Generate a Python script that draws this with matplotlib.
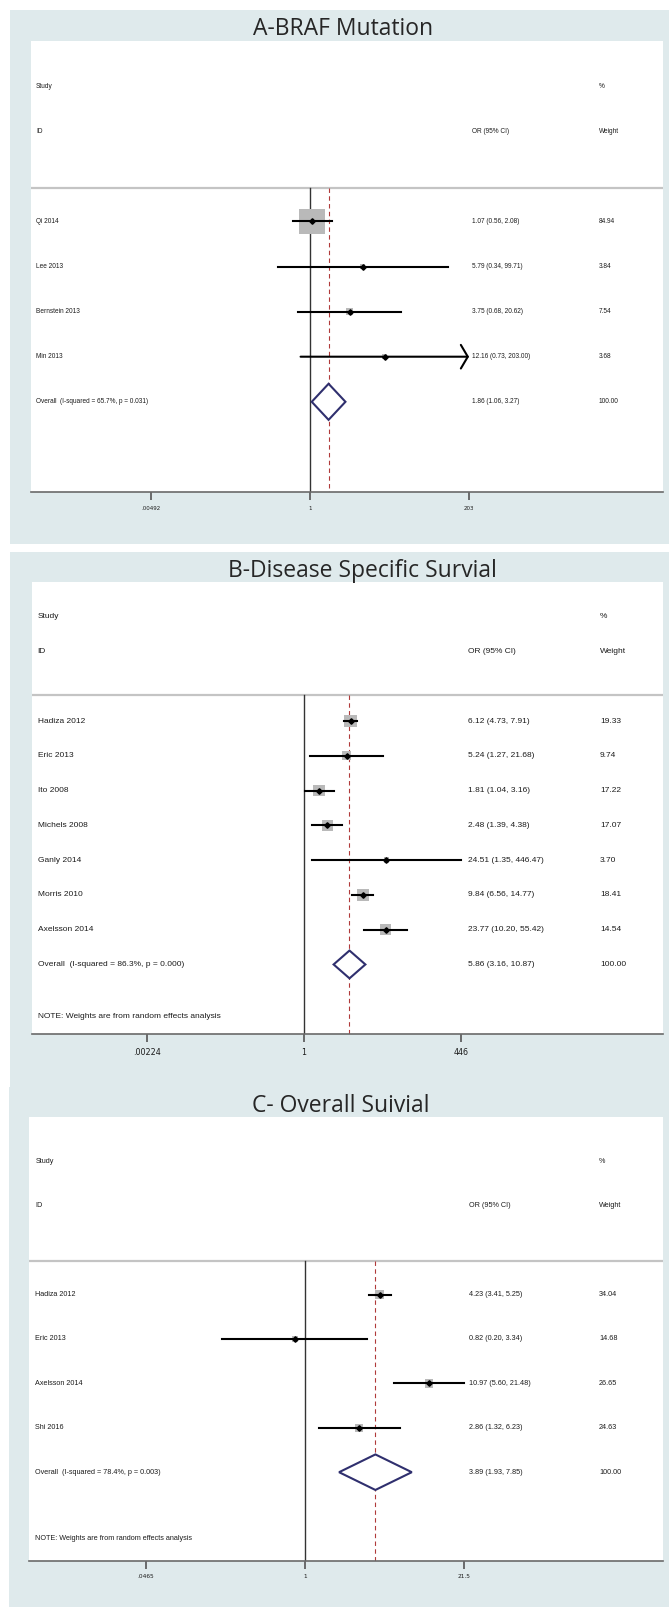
import matplotlib
matplotlib.use("Agg")
import matplotlib.pyplot as plt
import numpy as np
from matplotlib.patches import Rectangle, Polygon
from matplotlib.ticker import NullLocator

W, H = 669, 1607

# A - BRAF mutation
a_title = "A-BRAF Mutation"
a_studies = ["Qi 2014", "Lee 2013", "Bernstein 2013", "Min 2013"]
a_or = [1.07, 5.79, 3.75, 12.16]
a_lo = [0.56, 0.34, 0.68, 0.73]
a_hi = [2.08, 99.71, 20.62, 203.00]
a_weight = [84.94, 3.84, 7.54, 3.68]
a_overall = [1.86, 1.06, 3.27]
a_overall_label = "Overall  (I-squared = 65.7%, p = 0.031)"
a_ticks = [1 / 203, 1, 203]
a_ticklabels = [".00492", "1", "203"]

# B - disease specific survival
b_title = "B-Disease Specific Survial"
b_studies = ["Hadiza 2012", "Eric 2013", "Ito 2008", "Michels 2008",
             "Ganly 2014", "Morris 2010", "Axelsson 2014"]
b_or = [6.12, 5.24, 1.81, 2.48, 24.51, 9.84, 23.77]
b_lo = [4.73, 1.27, 1.04, 1.39, 1.35, 6.56, 10.20]
b_hi = [7.91, 21.68, 3.16, 4.38, 446.47, 14.77, 55.42]
b_weight = [19.33, 9.74, 17.22, 17.07, 3.70, 18.41, 14.54]
b_overall = [5.86, 3.16, 10.87]
b_overall_label = "Overall  (I-squared = 86.3%, p = 0.000)"
b_ticks = [1 / 446.5, 1, 446.5]
b_ticklabels = [".00224", "1", "446"]

# C - overall survival
c_title = "C- Overall Suivial"
c_studies = ["Hadiza 2012", "Eric 2013", "Axelsson 2014", "Shi 2016"]
c_or = [4.23, 0.82, 10.97, 2.86]
c_lo = [3.41, 0.20, 5.60, 1.32]
c_hi = [5.25, 3.34, 21.48, 6.23]
c_weight = [34.04, 14.68, 26.65, 24.63]
c_overall = [3.89, 1.93, 7.85]
c_overall_label = "Overall  (I-squared = 78.4%, p = 0.003)"
c_ticks = [1 / 21.5, 1, 21.5]
c_ticklabels = [".0465", "1", "21.5"]

note = "NOTE: Weights are from random effects analysis"

BG = "#dfeaec"
TXT = "#1c1c1c"
NAVY = "#2f2f6e"


def px_axes(fig, l, t, r, b):
    return fig.add_axes([l / W, 1 - b / H, (r - l) / W, (b - t) / H])


def panel_bg(fig, l, t, r, b):
    fig.patches.append(Rectangle((l / W, 1 - b / H), (r - l) / W, (b - t) / H,
                                 transform=fig.transFigure, facecolor=BG,
                                 edgecolor="none", zorder=-5))


def forest(ax, box, studies, est, lo, hi, weight, overall, overall_label,
           ticks, ticklabels, x_one, x_tmax, cols, fs, tfs, box_scale,
           show_note, tick_pad):
    l, t, r, b = box
    n = len(studies)
    ax.set_xscale("log")
    frac1 = (x_one - l) / (r - l)
    fracT = (x_tmax - l) / (r - l)
    span = np.log(ticks[-1]) / (fracT - frac1)
    ax.set_xlim(np.exp(-frac1 * span), np.exp((1 - frac1) * span))
    ax.set_ylim(n + 2, -4)
    ax.set_facecolor("white")
    for s in ["top", "left", "right"]:
        ax.spines[s].set_visible(False)
    ax.spines["bottom"].set_color("#6a6a6a")
    ax.spines["bottom"].set_linewidth(1.2)
    ax.set_yticks([])
    ax.set_xticks(ticks)
    ax.set_xticklabels(ticklabels)
    ax.xaxis.set_minor_locator(NullLocator())
    ax.tick_params(axis="x", direction="out", length=6, width=1.2,
                   color="#555555", labelsize=tfs, labelcolor=TXT, pad=tick_pad)

    tr = ax.get_yaxis_transform()
    cname, cor, cw = [(c - l) / (r - l) for c in cols]
    kw = dict(transform=tr, fontsize=fs, color=TXT, va="center", ha="left",
              family="Liberation Sans")
    ax.text(cname, -3, "Study", **kw)
    ax.text(cw, -3, "%", **kw)
    ax.text(cname, -2, "ID", **kw)
    ax.text(cor, -2, "OR (95% CI)", **kw)
    ax.text(cw, -2, "Weight", **kw)
    ax.axhline(-0.75, color="#c4c4c4", lw=1.6, zorder=1)

    ax.plot([1, 1], [-0.75, n + 2], color="#333333", lw=1.0, zorder=2)
    ax.plot([overall[0], overall[0]], [-0.75, n + 2], color="#b03a3a", lw=0.8,
            dashes=(4, 3), zorder=2)

    ypos = np.arange(n)
    tmax = ticks[-1]
    ax.scatter(est, ypos, s=[0.52 * box_scale ** 2 * w for w in weight],
               marker="s", color="#b9b9b9", edgecolors="none", zorder=3)
    for i in range(n):
        if hi[i] >= tmax:
            ax.annotate("", xy=(tmax, i), xytext=(lo[i], i),
                        arrowprops=dict(arrowstyle="->,head_length=0.5,head_width=0.85",
                                        lw=1.5, color="black", shrinkA=0, shrinkB=0),
                        zorder=4)
        else:
            ax.plot([lo[i], hi[i]], [i, i], color="black", lw=1.5, zorder=4)
        ax.text(cname, i, studies[i], **kw)
        ax.text(cor, i, f"{est[i]:.2f} ({lo[i]:.2f}, {hi[i]:.2f})", **kw)
        ax.text(cw, i, f"{weight[i]:.2f}", **kw)
    ax.plot(est, ypos, "D", color="black", markersize=2.8, zorder=5)

    e, dl, dh = overall
    ax.add_patch(Polygon([(dl, n), (e, n - 0.4), (dh, n), (e, n + 0.4)],
                         closed=True, facecolor="white", edgecolor=NAVY,
                         lw=1.5, zorder=4))
    ax.text(cname, n, overall_label, **kw)
    ax.text(cor, n, f"{e:.2f} ({dl:.2f}, {dh:.2f})", **kw)
    ax.text(cw, n, "100.00", **kw)
    if show_note:
        ax.text(cname, n + 1.5, note, **kw)


fig = plt.figure(figsize=(W / 100, H / 100), dpi=100)
fig.patch.set_facecolor("white")

panel_bg(fig, 10, 10, 669, 544)
panel_bg(fig, 10, 552, 669, 1087)
panel_bg(fig, 9, 1087, 669, 1607)

tkw = dict(ha="center", va="center", fontsize=16.5, family="Open Sans", color="#262626")
fig.text(343 / W, 1 - 29 / H, a_title, **tkw)
fig.text(362 / W, 1 - 571 / H, b_title, **tkw)
fig.text(341 / W, 1 - 1106 / H, c_title, **tkw)

box_a = (30.7, 41, 663, 492)
ax_a = px_axes(fig, *box_a)
forest(ax_a, box_a, a_studies, a_or, a_lo, a_hi, a_weight, a_overall,
       a_overall_label, a_ticks, a_ticklabels, 310, 469, (36, 472, 599),
       4.7, 4.0, 2.75, False, 4)

box_b = (32, 582, 663, 1034)
ax_b = px_axes(fig, *box_b)
forest(ax_b, box_b, b_studies, b_or, b_lo, b_hi, b_weight, b_overall,
       b_overall_label, b_ticks, b_ticklabels, 304, 461, (37.5, 468, 600),
       6.0, 5.8, 2.8, True, 4)

box_c = (29, 1117, 663, 1561)
ax_c = px_axes(fig, *box_c)
forest(ax_c, box_c, c_studies, c_or, c_lo, c_hi, c_weight, c_overall,
       c_overall_label, c_ticks, c_ticklabels, 305, 464, (35.4, 469, 599),
       5.2, 4.2, 1.6, True, 3.5)

fig.savefig("out.png", dpi=100)
